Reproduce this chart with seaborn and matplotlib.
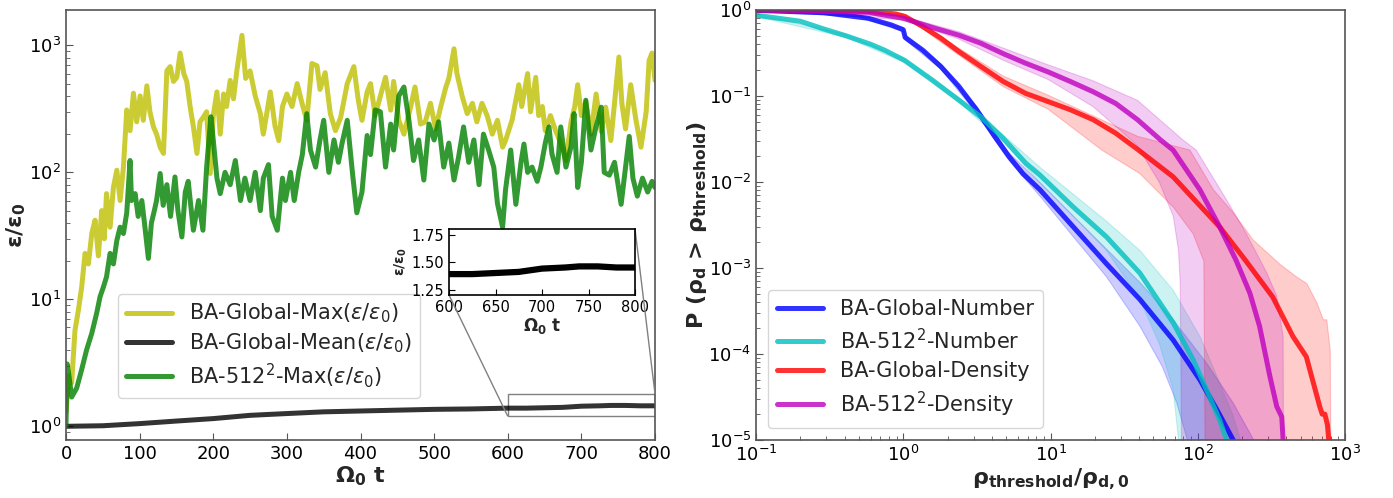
import numpy as np
import pandas as pd
import matplotlib
matplotlib.use("Agg")
import matplotlib.pyplot as plt
import seaborn as sns
from mpl_toolkits.axes_grid1.inset_locator import mark_inset

# ---------------- data: left panel ----------------
gmax_t = [0, 4, 7.7, 12.2, 16.8, 21.3, 25.9, 30.4, 35, 39.5, 44, 48.5, 52, 55, 59.9, 64.4, 69, 73.5, 78, 82.5,
          87, 91.6, 96, 100.7, 105, 109.8, 114, 118.8, 123, 127.9, 132.4, 137, 141.5, 146, 150.5, 155, 160, 164,
          168.7, 173, 177.9, 182, 186.9, 191, 195.9, 200, 205, 209.5, 214, 218, 223, 227.5, 232, 239, 244, 250,
          257, 264, 268, 277.5, 284, 289, 294, 300, 307, 314, 320, 327, 334, 341, 345, 352, 359, 366, 373, 382,
          391, 397, 402, 409, 413.6, 420, 427, 434, 441, 445, 452, 459, 468, 474, 481.6, 488, 495, 502, 508.8,
          516, 520, 527, 531, 538, 545, 552, 558, 565, 572, 579, 586, 593, 597, 606, 615, 619, 627, 631, 638,
          642, 647, 651, 658, 665, 672, 679, 686, 691, 695, 700, 706, 713, 720, 727, 733, 740, 745, 751, 755,
          760, 767, 774, 781, 788, 792, 796, 800]
gmax_v = [1.3, 2.5, 2.2, 5.7, 8.2, 12.5, 23, 19, 33, 42, 22, 50, 30, 68, 37, 76, 104, 60, 110, 310,
          213, 420, 250, 400, 257, 480, 300, 228, 200, 158, 141, 630, 680, 520, 560, 870, 600, 520,
          326, 230, 141, 250, 274, 300, 98, 280, 430, 200, 414, 330, 530, 380, 630, 1200, 550, 630,
          400, 290, 200, 430, 230, 178, 330, 414, 330, 500, 360, 257, 720, 690, 450, 610, 290, 213, 270, 500,
          680, 370, 257, 430, 500, 280, 400, 560, 309, 520, 257, 200, 326, 470, 240, 250, 350, 220, 326,
          470, 550, 940, 600, 400, 290, 350, 250, 350, 280, 200, 257, 158, 178, 260, 490, 330, 600, 300, 560,
          280, 330, 213, 280, 213, 170, 124, 250, 330, 490, 280, 360, 200, 414, 210, 326, 178, 350, 810, 350,
          220, 490, 260, 158, 300, 760, 870, 530]

smax_t = [0, 1.5, 4, 7.7, 14.5, 21.3, 28, 35, 41.7, 46.3, 50.8, 55, 59.9, 64.4, 69, 73.5, 78, 82.5, 87, 89,
          93.9, 98, 103, 107, 111.9, 116, 120, 123, 127.9, 132, 137, 142, 148, 152, 157.4, 162, 166, 173, 180,
          186, 191, 196.8, 200, 205, 209.5, 216, 223, 230, 237, 243, 250, 257, 264, 268, 275, 280, 287, 294,
          298, 305, 310, 316, 321, 327, 332, 339, 345, 350, 357, 364, 370, 375, 382, 389, 395, 402, 409, 413.6,
          420, 427, 434, 441, 445, 452, 459, 466, 472, 479, 486, 493, 500, 506, 513, 520, 527, 533, 540, 547,
          554, 561, 567, 574, 581, 586, 593, 597, 604, 611, 618, 622, 627, 633, 640, 645, 651, 656, 660, 667,
          672, 679, 686, 690, 695, 700, 706, 713, 720, 727, 731, 738, 745, 754, 760, 765, 770, 776, 783, 790,
          796, 800]
smax_v = [1.0, 3.1, 2.5, 1.7, 2.0, 2.8, 4.0, 5.4, 7.8, 10.5, 12.5, 15, 23, 19, 29, 37, 33, 48, 124, 60,
          68, 45, 60, 38, 21, 40, 50, 60, 98, 55, 80, 45, 92, 50, 31, 70, 85, 35, 60,
          35, 110, 274, 180, 90, 68, 100, 80, 124, 60, 90, 60, 100, 50, 90, 115, 45, 35, 90,
          60, 100, 60, 100, 138, 290, 150, 110, 180, 257, 100, 180, 120, 170, 257, 100, 48, 70, 195, 138,
          310, 300, 110, 240, 150, 400, 470, 250, 124, 180, 87, 240, 180, 250, 110, 170, 87, 130, 228, 120,
          180, 80, 200, 150, 110, 57, 37, 73, 150, 56, 120, 167, 100, 110, 85, 110, 170, 228, 140, 100,
          228, 110, 160, 290, 76, 120, 370, 150, 230, 326, 100, 95, 120, 56, 110, 192, 90, 65, 90, 70,
          85, 76]

gmean_t = [0, 50, 100, 150, 200, 250, 300, 350, 400, 450, 500, 550, 600, 625, 650, 675, 700, 725, 740, 760, 780, 800]
gmean_v = [1.0, 1.01, 1.05, 1.1, 1.15, 1.22, 1.26, 1.3, 1.32, 1.34, 1.36, 1.37, 1.39, 1.39, 1.40, 1.41, 1.44,
           1.45, 1.46, 1.46, 1.45, 1.45]

# ---------------- data: right panel ----------------
gnum_x = [0.1, 0.29, 0.58, 0.83, 1.0, 1.03, 1.36, 1.8, 2.38, 3.15, 4.17, 5.2, 6.5, 8.5, 14.3, 24, 40.5, 68.2, 103.5, 135, 174]
gnum_p = [0.99, 0.93, 0.80, 0.67, 0.59, 0.48, 0.34, 0.22, 0.13, 0.069, 0.034, 0.02, 0.0125, 0.0081, 0.0030, 0.00112,
          4.3e-4, 1.45e-4, 5e-5, 2.24e-5, 1e-5]
gnum_hi_x = [0.1, 0.5, 1.0, 1.03, 1.8, 3.15, 5.2, 8.5, 14.3, 24, 40.5, 68.2, 115, 174, 240, 240]
gnum_hi_p = [1.0, 0.87, 0.62, 0.51, 0.235, 0.075, 0.022, 0.0098, 0.004, 0.00166, 6.8e-4, 2.5e-4, 7.8e-5, 2.7e-5, 1e-5, 1e-7]
gnum_lo_x = [0.1, 0.5, 1.0, 1.03, 1.8, 3.15, 5.2, 8.5, 14.3, 24, 40.5, 57.5, 72, 85, 85]
gnum_lo_p = [0.97, 0.83, 0.56, 0.45, 0.205, 0.063, 0.018, 0.0068, 0.0023, 7.9e-4, 2.1e-4, 7.1e-5, 2.7e-5, 1e-5, 1e-7]

snum_x = [0.1, 0.2, 0.29, 0.41, 0.6, 0.75, 1.02, 1.56, 2.38, 3.37, 4.79, 6.8, 8.5, 14.3, 24, 40.5, 68.2, 93.3, 115, 141, 157]
snum_p = [0.87, 0.74, 0.6, 0.5, 0.4, 0.34, 0.26, 0.155, 0.09, 0.057, 0.032, 0.0165, 0.012, 5.1e-3, 2.3e-3, 8.7e-4,
          2.3e-4, 8.5e-5, 3.8e-5, 1.7e-5, 1e-5]
snum_hi_x = [0.1, 0.41, 1.02, 2.38, 4.79, 8.5, 14.3, 24, 40.5, 68.2, 103.5, 141, 174, 195, 195]
snum_hi_p = [0.9, 0.52, 0.27, 0.095, 0.035, 0.0148, 7.2e-3, 3.5e-3, 1.6e-3, 5.5e-4, 1.6e-4, 4.6e-5, 1.9e-5, 1e-5, 1e-7]
snum_lo_x = [0.1, 0.41, 1.02, 2.38, 4.79, 8.5, 14.3, 24, 40.5, 55, 68.2, 74, 74]
snum_lo_p = [0.84, 0.48, 0.245, 0.085, 0.029, 0.0098, 4e-3, 1.6e-3, 4.3e-4, 1.3e-4, 3.8e-5, 1e-5, 1e-7]

gden_x = [0.1, 0.29, 0.58, 0.89, 1.03, 1.36, 1.8, 2.38, 3.37, 4.79, 6.8, 9.66, 13.7, 19.5, 27.7, 39, 68, 141, 213,
          323, 443, 546, 610, 676, 700, 730, 760, 776]
gden_p = [1.0, 0.995, 0.96, 0.9, 0.84, 0.64, 0.47, 0.33, 0.22, 0.147, 0.107, 0.086, 0.069, 0.053, 0.037, 0.024,
          0.0115, 3e-3, 1.2e-3, 4.6e-4, 1.6e-4, 9.3e-5, 4.6e-5, 2.4e-5, 2e-5, 2e-5, 1.5e-5, 1e-5]
gden_hi_x = [0.1, 1.0, 1.36, 2.38, 4.79, 9.66, 39, 88.5, 128, 174, 239, 363, 468, 550, 646, 713, 752, 794, 800, 800]
gden_hi_p = [1.0, 0.9, 0.68, 0.36, 0.17, 0.102, 0.034, 0.0235, 8.1e-3, 4.4e-3, 2.1e-3, 1.1e-3, 7.9e-4, 6.6e-4,
             3.9e-4, 2.5e-4, 2.5e-4, 1.1e-4, 1e-5, 1e-7]
gden_lo_x = [0.1, 0.58, 1.03, 1.36, 2.38, 4.79, 9.66, 22.3, 40.5, 68.2, 93, 110, 112, 112]
gden_lo_p = [0.99, 0.95, 0.82, 0.6, 0.30, 0.128, 0.07, 0.0235, 0.0125, 5.1e-3, 2.5e-3, 1.2e-3, 1e-5, 1e-7]

sden_x = [0.1, 0.58, 1.0, 1.66, 2.38, 3.37, 4.79, 6.8, 9.66, 13.7, 19.5, 27.7, 39, 55.7, 68, 103.5, 141, 182, 226,
          263, 309, 344, 372, 380]
sden_p = [1.0, 0.94, 0.8, 0.61, 0.51, 0.41, 0.31, 0.24, 0.19, 0.147, 0.112, 0.082, 0.053, 0.031, 0.0235, 8.1e-3,
          3.0e-3, 1.23e-3, 5.1e-4, 2.1e-4, 5.5e-5, 2.45e-5, 1.86e-5, 1e-5]
sden_hi_x = [0.1, 1.0, 2.38, 4.79, 9.66, 19.5, 39, 79, 97.7, 157, 214, 295, 344, 380, 382, 382]
sden_hi_p = [1.0, 0.84, 0.56, 0.36, 0.23, 0.15, 0.089, 0.031, 0.0235, 6.2e-3, 2.5e-3, 8.7e-4, 4.7e-4, 1.6e-4, 1e-5, 1e-7]
sden_lo_x = [0.1, 1.0, 2.38, 4.79, 9.66, 19.5, 38.5, 55, 68.2, 74, 76, 77.6, 77.6]
sden_lo_p = [0.99, 0.77, 0.46, 0.26, 0.155, 0.075, 0.027, 9.8e-3, 4e-3, 1.6e-3, 6.8e-4, 1e-5, 1e-7]

# ---------------- style ----------------
sns.set_style("white")
plt.rcParams.update({
    "font.family": ["DejaVu Sans"],
    "mathtext.fontset": "dejavusans",
    "xtick.direction": "in",
    "ytick.direction": "in",
    "axes.edgecolor": "#555555",
    "axes.linewidth": 1.2,
    "xtick.color": "#555555",
    "ytick.color": "#555555",
    "xtick.labelcolor": "black",
    "ytick.labelcolor": "black",
    "xtick.bottom": True,
    "ytick.left": True,
})

fig = plt.figure(figsize=(13.93, 4.98), dpi=100)
ax1 = fig.add_axes([66 / 1393, 1 - 440 / 498, 589 / 1393, 430 / 498])
ax2 = fig.add_axes([756 / 1393, 1 - 440 / 498, 589 / 1393, 430 / 498])

# ---------------- left panel ----------------
lw = 3.6
sns.lineplot(x=gmax_t, y=gmax_v, ax=ax1, color="y", alpha=0.8, lw=lw, estimator=None, sort=False,
             label=r"BA-Global-Max$(\epsilon/\epsilon_0)$")
sns.lineplot(x=gmean_t, y=gmean_v, ax=ax1, color="k", alpha=0.8, lw=lw, estimator=None, sort=False,
             label=r"BA-Global-Mean$(\epsilon/\epsilon_0)$")
sns.lineplot(x=smax_t, y=smax_v, ax=ax1, color="g", alpha=0.8, lw=lw, estimator=None, sort=False,
             label=r"BA-512$^2$-Max$(\epsilon/\epsilon_0)$")
ax1.set_yscale("log")
ax1.set_xlim(0, 800)
ax1.set_ylim(0.78, 1900)
ax1.set_xticks(range(0, 801, 100))
ax1.tick_params(axis="both", which="major", labelsize=13, length=5)
ax1.tick_params(axis="y", which="minor", length=3)
ax1.set_xlabel(r"Ω$_\mathbf{0}$ t", fontsize=16, fontweight="bold", labelpad=1)
ax1.set_ylabel(r"ε/ε$_\mathbf{0}$", fontsize=16, fontweight="bold")
ax1.yaxis.set_label_coords(-0.064, 0.5)
ax1.legend(loc="lower left", bbox_to_anchor=(0.088, 0.098), borderaxespad=0, fontsize=15, handlelength=2.2,
           frameon=True, framealpha=0.8, edgecolor="#cccccc", borderpad=0.4, labelspacing=0.28)

axins = fig.add_axes([449 / 1393, 1 - 295 / 498, 186 / 1393, 66 / 498])
sns.lineplot(x=gmean_t, y=gmean_v, ax=axins, color="k", lw=4.5, estimator=None, sort=False, legend=False)
axins.set_xlim(600, 800)
axins.set_ylim(1.2, 1.8)
axins.set_xticks([600, 650, 700, 750, 800])
axins.set_yticks([1.25, 1.5, 1.75])
axins.set_yticklabels(["1.25", "1.50", "1.75"])
axins.tick_params(labelsize=10.5, length=4, colors="black")
for s in axins.spines.values():
    s.set_edgecolor("black")
axins.set_xlabel(r"Ω$_\mathbf{0}$ t", fontsize=12, fontweight="bold", labelpad=1)
axins.set_ylabel(r"ε/ε$_\mathbf{0}$", fontsize=10, fontweight="bold", labelpad=2)
mark_inset(ax1, axins, loc1=1, loc2=3, fc="none", ec="0.5", lw=1.0)

# ---------------- right panel ----------------
series = [
    (gnum_x, gnum_p, gnum_hi_x, gnum_hi_p, gnum_lo_x, gnum_lo_p, "b", "BA-Global-Number"),
    (snum_x, snum_p, snum_hi_x, snum_hi_p, snum_lo_x, snum_lo_p, "c", r"BA-512$^2$-Number"),
    (gden_x, gden_p, gden_hi_x, gden_hi_p, gden_lo_x, gden_lo_p, "r", "BA-Global-Density"),
    (sden_x, sden_p, sden_hi_x, sden_hi_p, sden_lo_x, sden_lo_p, "m", r"BA-512$^2$-Density"),
]
for x, p, hx, hp, lx, lp, col, lab in series:
    ax2.fill(list(hx) + list(lx)[::-1], list(hp) + list(lp)[::-1], color=col, alpha=0.2, lw=0.8)
for x, p, hx, hp, lx, lp, col, lab in series:
    sns.lineplot(x=x, y=p, ax=ax2, color=col, alpha=0.8, lw=lw, estimator=None, sort=False, label=lab)

ax2.set_xscale("log")
ax2.set_yscale("log")
ax2.set_xlim(0.1, 1000)
ax2.set_ylim(1e-5, 1)
ax2.tick_params(axis="both", which="major", labelsize=13, length=5)
ax2.tick_params(axis="both", which="minor", length=3)
ax2.set_xlabel(r"ρ$_\mathbf{threshold}$/ρ$_\mathbf{d,0}$", fontsize=16, fontweight="bold", labelpad=1)
ax2.set_ylabel(r"P (ρ$_\mathbf{d}$ > ρ$_\mathbf{threshold}$)", fontsize=16, fontweight="bold")
ax2.yaxis.set_label_coords(-0.08, 0.5)
ax2.legend(loc="lower left", bbox_to_anchor=(0.02, 0.028), borderaxespad=0, fontsize=15, handlelength=2.2,
           frameon=True, framealpha=0.8, edgecolor="#cccccc", borderpad=0.45, labelspacing=0.4)

fig.savefig("out.png", dpi=100)
